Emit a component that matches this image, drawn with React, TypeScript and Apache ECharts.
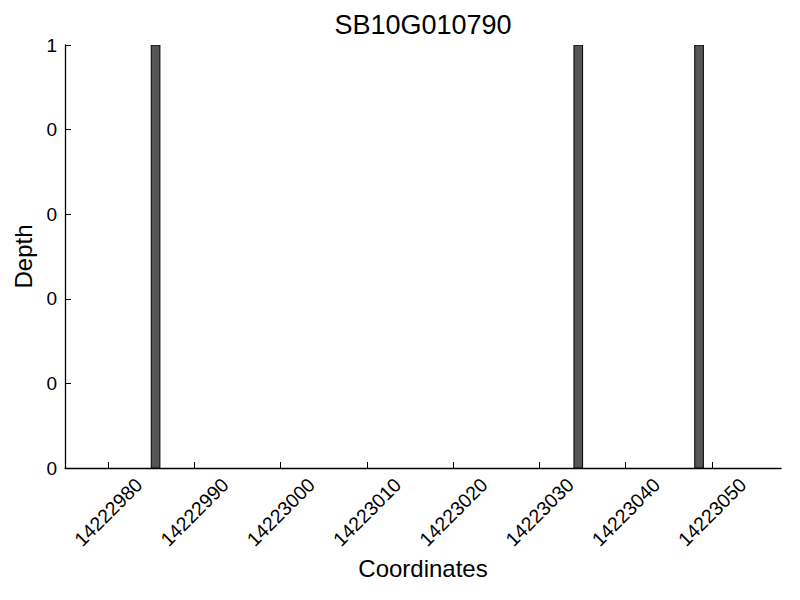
import React, { useEffect, useRef } from "react";
import * as echarts from "echarts";

const title = "SB10G010790";
const xName = "Coordinates";
const yName = "Depth";
const binStarts = [14222985, 14223034, 14223048];
const depths = [1, 1, 1];
const xTicks = [14222980, 14222990, 14223000, 14223010, 14223020, 14223030, 14223040, 14223050];
const xMin = 14222975;
const xMax = 14223058;
const binWidth = 1;

const FONT = "Liberation Sans";

export default function App() {
  const ref = useRef<HTMLDivElement>(null);
  useEffect(() => {
    if (!ref.current) return;
    const chart = echarts.init(ref.current, undefined, { renderer: "svg" });
    const data = binStarts.map((s, i) => [s, depths[i]]);
    chart.setOption({
      animation: false,
      backgroundColor: "#ffffff",
      title: {
        text: title,
        left: 418,
        textAlign: "center",
        top: 6,
        textStyle: { fontFamily: FONT, fontSize: 27, fontWeight: "normal", color: "#000" },
      },
      grid: { left: 65, right: 19, top: 45, bottom: 132, containLabel: false },
      xAxis: {
        type: "value",
        min: xMin,
        max: xMax,
        name: xName,
        nameLocation: "middle",
        nameGap: 87,
        nameTextStyle: { fontFamily: FONT, fontSize: 24, color: "#000" },
        splitLine: { show: false },
        axisLine: { show: true, lineStyle: { color: "#000", width: 1.3 } },
        axisTick: { show: true, inside: true, length: 6, customValues: xTicks, lineStyle: { color: "#000" } },
        axisLabel: {
          customValues: xTicks,
          rotate: 45,
          align: "center",
          verticalAlign: "middle",
          margin: 44,
          fontFamily: FONT,
          fontSize: 19.5,
          color: "#000",
          formatter: (v: number) => String(v),
        },
      },
      yAxis: {
        type: "value",
        min: 0,
        max: 1,
        interval: 0.2,
        name: yName,
        nameLocation: "middle",
        nameGap: 27,
        nameTextStyle: { fontFamily: FONT, fontSize: 24, color: "#000" },
        splitLine: { show: false },
        axisLine: { show: true, lineStyle: { color: "#000", width: 1.3 } },
        axisTick: { show: true, inside: true, length: 6, lineStyle: { color: "#000" } },
        axisLabel: {
          margin: 8,
          fontFamily: FONT,
          fontSize: 19,
          color: "#000",
          formatter: (v: number) => String(Math.floor(v + 1e-9)),
        },
      },
      series: [
        {
          type: "custom",
          data,
          encode: { x: 0, y: 1 },
          clip: true,
          renderItem: (params: any, api: any) => {
            const s = api.value(0);
            const d = api.value(1);
            const p0 = api.coord([s, 0]);
            const p1 = api.coord([s + binWidth, d]);
            return {
              type: "rect",
              shape: { x: p0[0], y: p1[1], width: p1[0] - p0[0], height: p0[1] - p1[1] },
              style: { fill: "#555555", stroke: "#000", lineWidth: 1 },
            };
          },
        },
      ],
    });
    return () => chart.dispose();
  }, []);
  return <div ref={ref} style={{ position: "fixed", left: 0, top: 0, width: 800, height: 600 }} />;
}
